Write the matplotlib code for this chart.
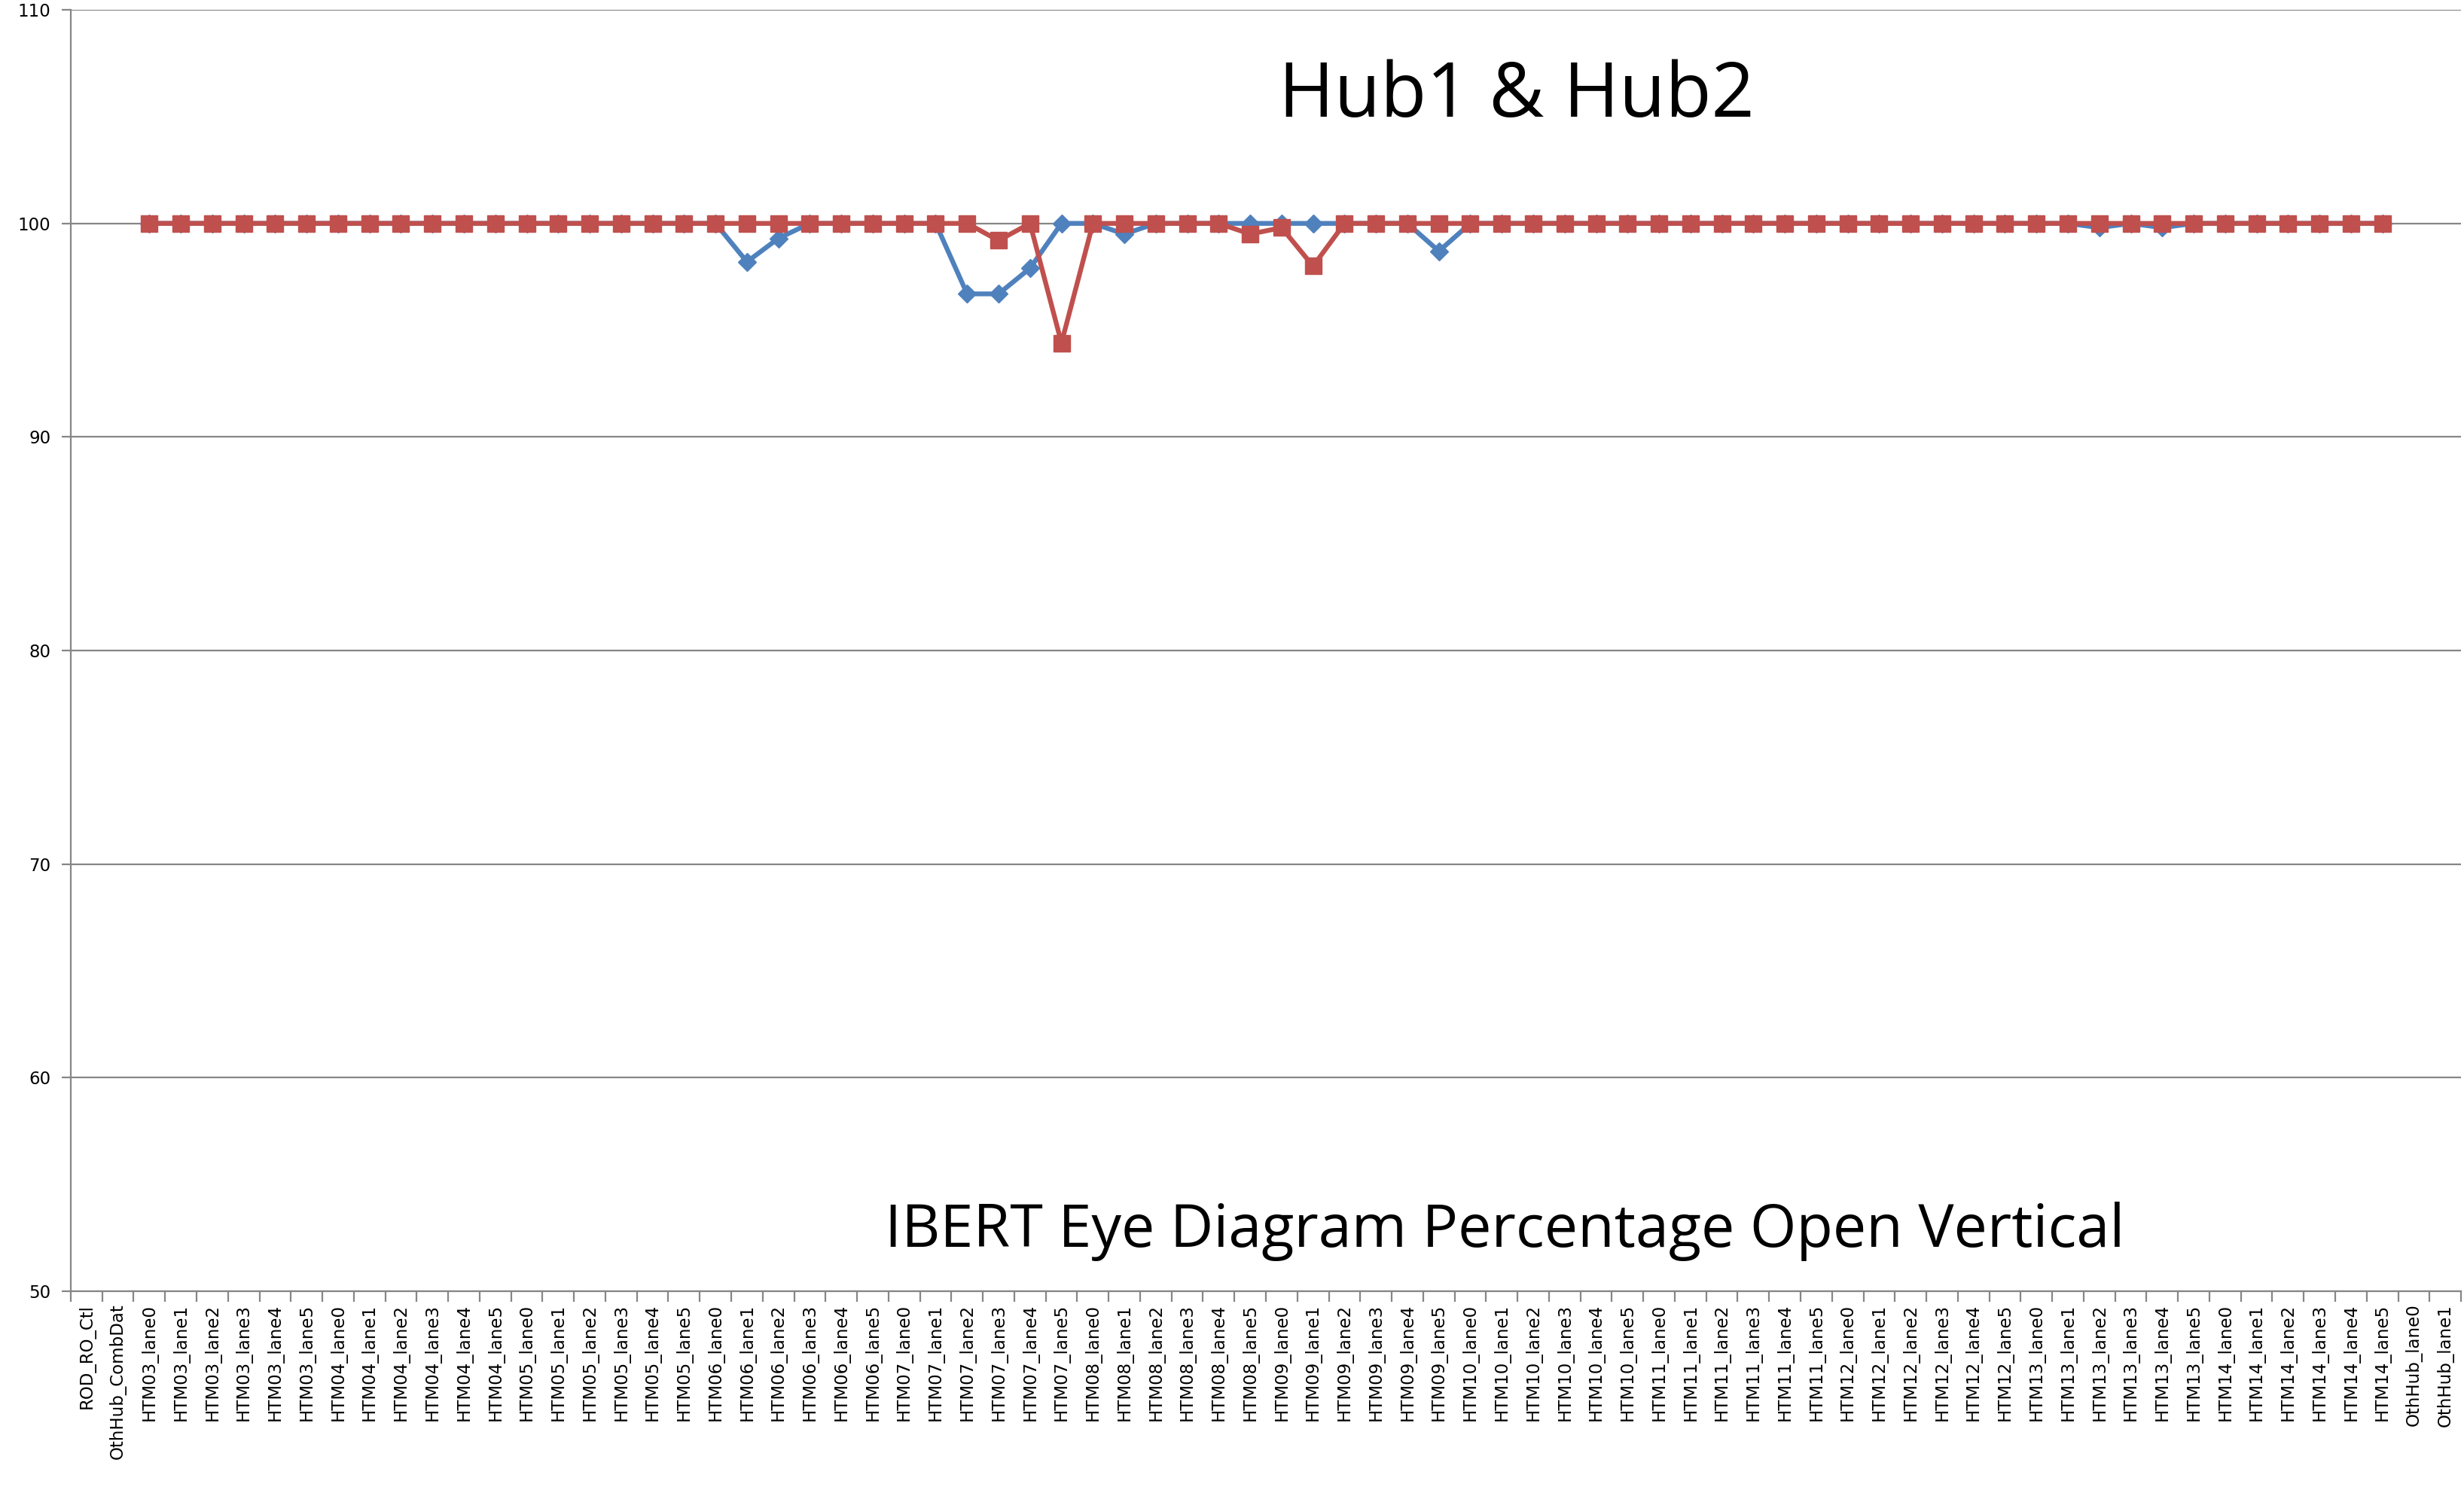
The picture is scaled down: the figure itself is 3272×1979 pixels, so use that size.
import numpy as np
import matplotlib
matplotlib.use("Agg")
import matplotlib.pyplot as plt

# x categories (link names)
front_labels = ["ROD_RO_Ctl", "OthHub_CombDat"]
htm_boards = ["HTM03", "HTM04", "HTM05", "HTM06", "HTM07", "HTM08",
              "HTM09", "HTM10", "HTM11", "HTM12", "HTM13", "HTM14"]
lanes = ["lane0", "lane1", "lane2", "lane3", "lane4", "lane5"]
back_labels = ["OthHub_lane0", "OthHub_lane1"]

# percentage open vertical, one row per HTM board (lane0..lane5)
hub1_values = [
    None, None,
    100, 100, 100, 100, 100, 100,      # HTM03
    100, 100, 100, 100, 100, 100,      # HTM04
    100, 100, 100, 100, 100, 100,      # HTM05
    100, 98.2, 99.3, 100, 100, 100,    # HTM06
    100, 100, 96.7, 96.7, 97.9, 100,   # HTM07
    100, 99.5, 100, 100, 100, 100,     # HTM08
    100, 100, 100, 100, 100, 98.7,     # HTM09
    100, 100, 100, 100, 100, 100,      # HTM10
    100, 100, 100, 100, 100, 100,      # HTM11
    100, 100, 100, 100, 100, 100,      # HTM12
    100, 100, 99.8, 100, 99.8, 100,    # HTM13
    100, 100, 100, 100, 100, 100,      # HTM14
    None, None,
]
hub2_values = [
    None, None,
    100, 100, 100, 100, 100, 100,      # HTM03
    100, 100, 100, 100, 100, 100,      # HTM04
    100, 100, 100, 100, 100, 100,      # HTM05
    100, 100, 100, 100, 100, 100,      # HTM06
    100, 100, 100, 99.2, 100, 94.4,    # HTM07
    100, 100, 100, 100, 100, 99.5,     # HTM08
    99.8, 98.0, 100, 100, 100, 100,    # HTM09
    100, 100, 100, 100, 100, 100,      # HTM10
    100, 100, 100, 100, 100, 100,      # HTM11
    100, 100, 100, 100, 100, 100,      # HTM12
    100, 100, 100, 100, 100, 100,      # HTM13
    100, 100, 100, 100, 100, 100,      # HTM14
    None, None,
]
y_ticks = [50, 60, 70, 80, 90, 100, 110]

title_text = "Hub1 & Hub2"
subtitle_text = "IBERT Eye Diagram Percentage Open Vertical"

BLUE = "#4F81BD"
RED = "#C0504D"
GRID = "#868686"


def make_plot(outfile="out.png"):
    """Draw both hub series on a category axis, Excel style."""
    labels = front_labels + ["{}_{}".format(b, l) for b in htm_boards for l in lanes] + back_labels
    x = np.arange(len(labels))
    hub1 = np.array(hub1_values, dtype=float)
    hub2 = np.array(hub2_values, dtype=float)

    fig = plt.figure(figsize=(32.73, 19.79), dpi=100)
    ax = fig.add_axes([0.0287, 0.1334, 0.9698, 0.860])

    ax.plot(x, hub1, color=BLUE, linewidth=4.6, marker="D", markersize=12,
            markerfacecolor=BLUE, markeredgecolor=BLUE, zorder=3)
    ax.plot(x, hub2, color=RED, linewidth=4.6, marker="s", markersize=16,
            markerfacecolor=RED, markeredgecolor=RED, zorder=4)

    ax.set_xlim(-0.5, len(labels) - 0.5)
    ax.set_ylim(50, 110)

    # horizontal gridlines
    ax.set_yticks(y_ticks)
    ax.set_yticklabels([str(v) for v in y_ticks], fontsize=16.5, family="DejaVu Sans")
    ax.yaxis.grid(True, color=GRID, linewidth=1.6)
    ax.set_axisbelow(True)
    ax.tick_params(axis="y", length=9, width=1.6, color=GRID, pad=10)

    # tick marks between categories, labels centred on categories
    ax.set_xticks(np.arange(len(labels) + 1) - 0.5)
    ax.set_xticklabels([])
    ax.tick_params(axis="x", which="major", length=10, width=1.6, color=GRID)
    ax.set_xticks(x, minor=True)
    ax.set_xticklabels(labels, minor=True, rotation=90, fontsize=16.5, family="DejaVu Sans")
    ax.tick_params(axis="x", which="minor", length=0, pad=12)

    for side in ["top", "right"]:
        ax.spines[side].set_visible(False)
    for side in ["left", "bottom"]:
        ax.spines[side].set_color(GRID)
        ax.spines[side].set_linewidth(1.6)

    ax.text(0.605, 0.932, title_text, transform=ax.transAxes, ha="center", va="center",
            fontsize=72, family="Open Sans")
    ax.text(0.600, 0.047, subtitle_text, transform=ax.transAxes, ha="center", va="center",
            fontsize=57, family="Open Sans")

    fig.savefig(outfile, dpi=100)


make_plot()
